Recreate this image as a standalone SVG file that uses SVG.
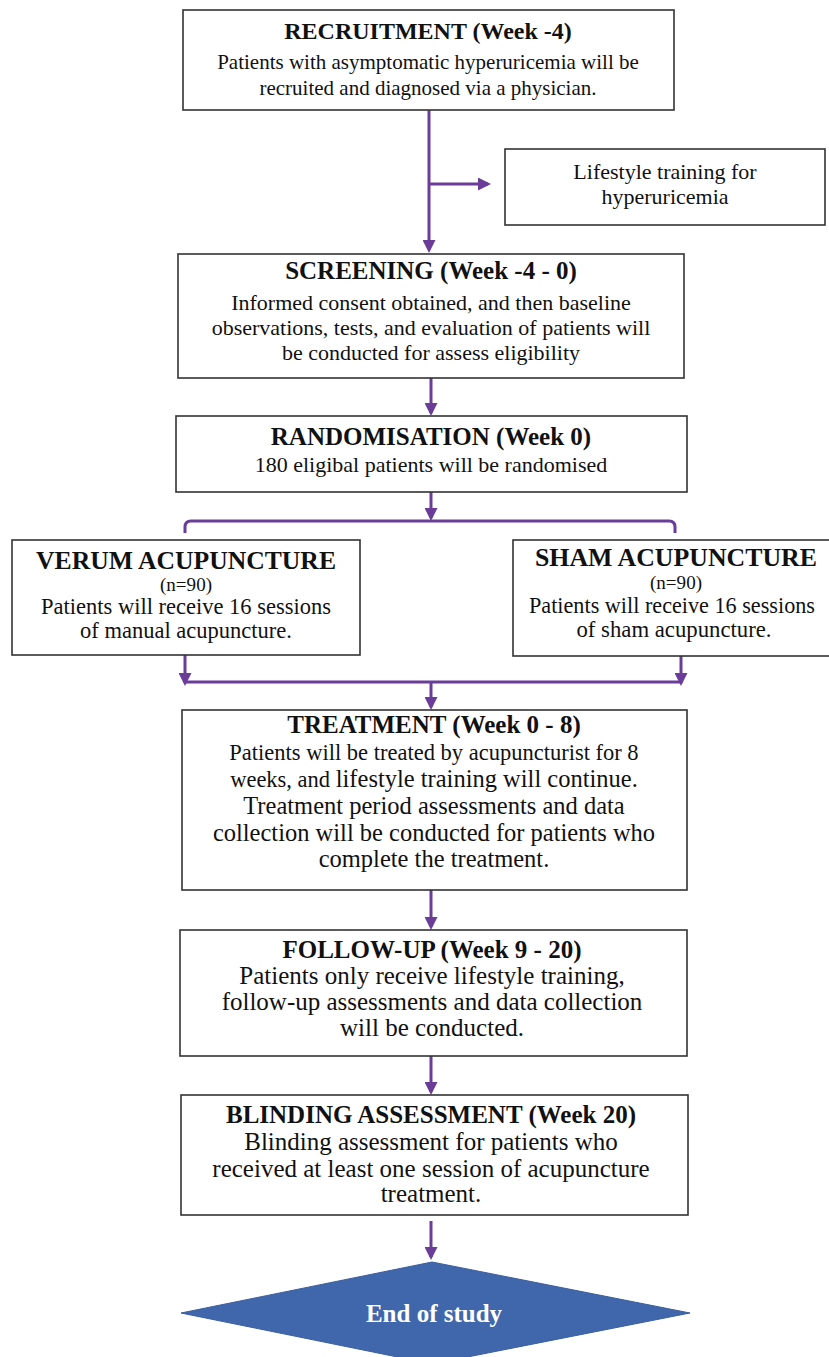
<svg xmlns="http://www.w3.org/2000/svg" width="829" height="1357" viewBox="0 0 829 1357">
<defs>
<marker id="ah" markerUnits="userSpaceOnUse" markerWidth="13" markerHeight="13" refX="10" refY="6.5" orient="auto">
<path d="M0,0 L13,6.5 L0,13 z" fill="#6B3D99"/>
</marker>
<style>
.box{fill:#fff;stroke:#333;stroke-width:1.6}
.t{font-family:"Liberation Serif","Times New Roman",serif;fill:#111;text-anchor:middle}
.h{font-weight:bold}
.c{fill:none;stroke:#6B3D99;stroke-width:3}
</style>
</defs>
<rect width="829" height="1357" fill="#fff"/>

<g id="connectors">
<line class="c" x1="429" y1="110" x2="429" y2="250" marker-end="url(#ah)"/>
<line class="c" x1="429" y1="184" x2="488" y2="184" marker-end="url(#ah)"/>
<line class="c" x1="431" y1="378" x2="431" y2="413" marker-end="url(#ah)"/>
<line class="c" x1="431" y1="492" x2="431" y2="518" marker-end="url(#ah)"/>
<path class="c" d="M185,533 V527 Q185,521 191,521 H669 Q675,521 675,527 V533"/>
<line class="c" x1="185" y1="655" x2="185" y2="683" marker-end="url(#ah)"/>
<line class="c" x1="681" y1="656" x2="681" y2="683" marker-end="url(#ah)"/>
<line class="c" x1="185" y1="682" x2="681" y2="682"/>
<line class="c" x1="431" y1="682" x2="431" y2="707" marker-end="url(#ah)"/>
<line class="c" x1="431" y1="890" x2="431" y2="927" marker-end="url(#ah)"/>
<line class="c" x1="431" y1="1056" x2="431" y2="1092" marker-end="url(#ah)"/>
<line class="c" x1="431" y1="1221" x2="431" y2="1257" marker-end="url(#ah)"/>
</g>

<g id="recruitment">
<rect class="box" x="183" y="10" width="491" height="100"/>
<text class="t h" x="428" y="39" font-size="24">RECRUITMENT (Week -4)</text>
<text class="t" x="428" y="69" font-size="21">Patients with asymptomatic hyperuricemia will be</text>
<text class="t" x="428" y="95" font-size="21">recruited and diagnosed via a physician.</text>
</g>

<g id="lifestyle">
<rect class="box" x="505" y="149" width="320" height="76"/>
<text class="t" x="665" y="179" font-size="22">Lifestyle training for</text>
<text class="t" x="665" y="204" font-size="22">hyperuricemia</text>
</g>

<g id="screening">
<rect class="box" x="178" y="254" width="506" height="124"/>
<text class="t h" x="431" y="279" font-size="25">SCREENING (Week -4 - 0)</text>
<text class="t" x="431" y="310" font-size="22">Informed consent obtained, and then baseline</text>
<text class="t" x="431" y="335" font-size="22">observations, tests, and evaluation of patients will</text>
<text class="t" x="431" y="360" font-size="22">be conducted for assess eligibility</text>
</g>

<g id="randomisation">
<rect class="box" x="176" y="416" width="511" height="76"/>
<text class="t h" x="431" y="445" font-size="25">RANDOMISATION (Week 0)</text>
<text class="t" x="431" y="472" font-size="22">180 eligibal patients will be randomised</text>
</g>

<g id="verum">
<rect class="box" x="12" y="540" width="348" height="115"/>
<text class="t h" x="186" y="569" font-size="26" textLength="300" lengthAdjust="spacingAndGlyphs">VERUM ACUPUNCTURE</text>
<text class="t" x="186" y="591" font-size="19" textLength="52" lengthAdjust="spacingAndGlyphs">(n=90)</text>
<text class="t" x="186" y="614" font-size="23" textLength="290" lengthAdjust="spacingAndGlyphs">Patients will receive 16 sessions</text>
<text class="t" x="186" y="638" font-size="23" textLength="212" lengthAdjust="spacingAndGlyphs">of manual acupuncture.</text>
</g>

<g id="sham">
<rect class="box" x="513" y="540" width="330" height="116"/>
<text class="t h" x="676" y="566" font-size="26" textLength="282" lengthAdjust="spacingAndGlyphs">SHAM ACUPUNCTURE</text>
<text class="t" x="676" y="589" font-size="19" textLength="52" lengthAdjust="spacingAndGlyphs">(n=90)</text>
<text class="t" x="672" y="613" font-size="23" textLength="286" lengthAdjust="spacingAndGlyphs">Patients will receive 16 sessions</text>
<text class="t" x="674" y="637" font-size="23" textLength="195" lengthAdjust="spacingAndGlyphs">of sham acupuncture.</text>
</g>

<g id="treatment">
<rect class="box" x="182" y="710" width="505" height="180"/>
<text class="t h" x="434" y="733" font-size="25">TREATMENT (Week 0 - 8)</text>
<text class="t" x="434" y="760" font-size="22.5">Patients will be treated by acupuncturist for 8</text>
<text class="t" x="434" y="787" font-size="24.5"><tspan font-size="22.5">weeks, and </tspan>lifestyle training will continue.</text>
<text class="t" x="434" y="814" font-size="24.5">Treatment period assessments and data</text>
<text class="t" x="434" y="841" font-size="24.5">collection will be conducted for patients who</text>
<text class="t" x="434" y="867" font-size="24.5">complete the treatment.</text>
</g>

<g id="followup">
<rect class="box" x="180" y="930" width="507" height="126"/>
<text class="t h" x="432" y="958" font-size="25">FOLLOW-UP (Week 9 - 20)</text>
<text class="t" x="432" y="984" font-size="25">Patients only receive lifestyle training,</text>
<text class="t" x="432" y="1010" font-size="25">follow-up assessments and data collection</text>
<text class="t" x="432" y="1036" font-size="25">will be conducted.</text>
</g>

<g id="blinding">
<rect class="box" x="181" y="1095" width="507" height="120"/>
<text class="t h" x="431" y="1123" font-size="25">BLINDING ASSESSMENT (Week 20)</text>
<text class="t" x="431" y="1150" font-size="25">Blinding assessment for patients who</text>
<text class="t" x="431" y="1177" font-size="25">received at least one session of acupuncture</text>
<text class="t" x="431" y="1202" font-size="25">treatment.</text>
</g>

<g id="end">
<polygon points="432,1262 690,1313 432,1364 181,1313" fill="#4067AB" stroke="#3A5E9E" stroke-width="1"/>
<text class="t h" x="434" y="1322" font-size="25" style="fill:#fff">End of study</text>
</g>
</svg>
